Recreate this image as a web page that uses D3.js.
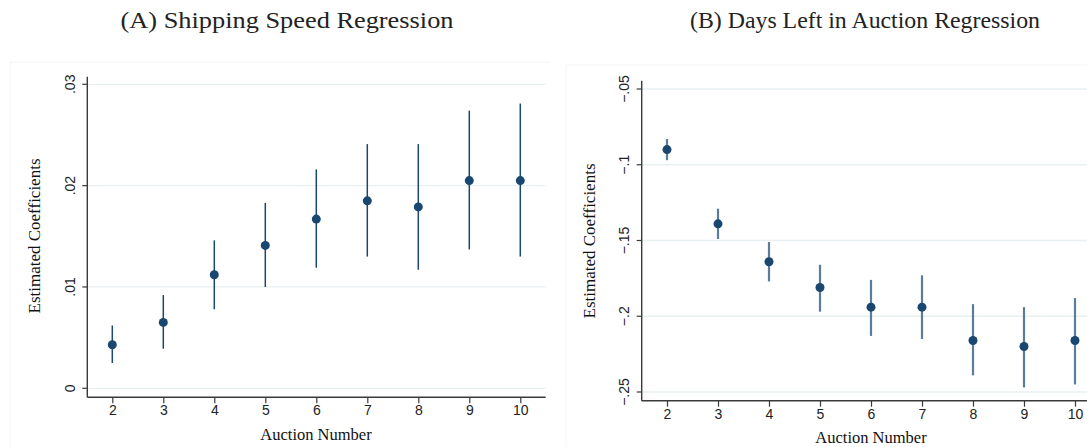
<!DOCTYPE html>
<html>
<head>
<meta charset="utf-8">
<script src="https://cdn.jsdelivr.net/npm/d3@7"></script>
<style>
  html, body { margin: 0; padding: 0; background: #fff; }
  svg { display: block; }
</style>
</head>
<body>
<svg id="chart" width="1087" height="447"></svg>
<script>
// ---- data ----
const auctions = [2, 3, 4, 5, 6, 7, 8, 9, 10];
const shipCoef = [0.0043, 0.0065, 0.0112, 0.0141, 0.0167, 0.0185, 0.0179, 0.0205, 0.0205];
const shipLo   = [0.0025, 0.0039, 0.0078, 0.0100, 0.0119, 0.0130, 0.0117, 0.0137, 0.0130];
const shipHi   = [0.0062, 0.0092, 0.0146, 0.0183, 0.0216, 0.0241, 0.0241, 0.0274, 0.0281];
const daysCoef = [-0.090, -0.139, -0.164, -0.181, -0.194, -0.194, -0.216, -0.220, -0.216];
const daysLo   = [-0.097, -0.149, -0.177, -0.197, -0.213, -0.215, -0.239, -0.247, -0.245];
const daysHi   = [-0.083, -0.129, -0.151, -0.166, -0.176, -0.173, -0.192, -0.194, -0.188];
const shipTicks = [0, 0.01, 0.02, 0.03];
const shipTickLabels = ["0", ".01", ".02", ".03"];
const daysTicks = [-0.25, -0.2, -0.15, -0.1, -0.05];
const daysTickLabels = ["\u2212.25", "\u2212.2", "\u2212.15", "\u2212.1", "\u2212.05"];
const titles = ["(A) Shipping Speed Regression", "(B) Days Left in Auction Regression"];
const xTitle = "Auction Number";
const yTitle = "Estimated Coefficients";

const svg = d3.select("#chart");
const navy = "#1a476f";
const gridCol = "#e8f0f2";
const axisCol = "#3a3a3a";
const serif = "'Liberation Serif', 'Times New Roman', serif";
const sans = "'Liberation Sans', Arial, sans-serif";

const panels = [
  { title: titles[0], titleX: 287, titleW: 333, border: { x: 10, y: 62 },
    axisX: 87.3, axisTop: 76.7, axisY: 397.3, right: 545.7,
    yDomain: [0, 0.03], yRange: [388.3, 84.3], x2: 112.3, x10: 520.3,
    ticks: shipTicks, tickLabels: shipTickLabels,
    coef: shipCoef, lo: shipLo, hi: shipHi, barCol: navy, barW: 1.5,
    ytx: 75, ytitleX: 40, ytitleY: 236, xtitleX: 316, xtitleY: 440, xlabY: 415 },
  { title: titles[1], titleX: 865, titleW: 350, border: { x: 566, y: 65 },
    axisX: 641.7, axisTop: 80.7, axisY: 400.7, right: 1100,
    yDomain: [-0.25, -0.05], yRange: [392, 89], x2: 667, x10: 1075,
    ticks: daysTicks, tickLabels: daysTickLabels,
    coef: daysCoef, lo: daysLo, hi: daysHi, barCol: "#5b7d9b", barW: 2.2,
    ytx: 629, ytitleX: 595, ytitleY: 241, xtitleX: 871, xtitleY: 443, xlabY: 419 }
];

panels.forEach(p => {
  const g = svg.append("g");

  // faint panel border
  g.append("path")
    .attr("d", `M${p.border.x},447 V${p.border.y} H${p.border.x + 540}`)
    .attr("fill", "none").attr("stroke", "#f4f4f4").attr("stroke-width", 1);

  // title
  g.append("text")
    .attr("x", p.titleX).attr("y", 28)
    .attr("text-anchor", "middle")
    .attr("font-family", serif).attr("font-size", 23)
    .attr("fill", "#222")
    .attr("textLength", p.titleW).attr("lengthAdjust", "spacingAndGlyphs")
    .text(p.title);

  const y = d3.scaleLinear().domain(p.yDomain).range(p.yRange);
  const x = d3.scaleLinear().domain([2, 10]).range([p.x2, p.x10]);

  // gridlines
  g.append("g").selectAll("line").data(p.ticks).join("line")
    .attr("x1", p.axisX).attr("x2", p.right)
    .attr("y1", d => y(d)).attr("y2", d => y(d))
    .attr("stroke", gridCol).attr("stroke-width", 1.3);

  // y axis
  const yAxis = d3.axisLeft(y).tickValues(p.ticks)
    .tickFormat((d, i) => p.tickLabels[i]).tickSize(5).tickSizeOuter(0);
  const ya = g.append("g").attr("transform", `translate(${p.axisX},0)`).call(yAxis);
  ya.select(".domain").remove();
  ya.selectAll(".tick").attr("transform", null);
  ya.selectAll(".tick line")
    .attr("y1", d => y(d)).attr("y2", d => y(d))
    .attr("stroke", axisCol).attr("stroke-width", 1.2);
  ya.selectAll(".tick text")
    .attr("x", null).attr("dy", null).attr("y", 0)
    .attr("transform", d => `translate(${p.ytx - p.axisX},${y(d)}) rotate(-90)`)
    .attr("text-anchor", "middle")
    .attr("font-family", sans).attr("font-size", 14).attr("fill", "#222");
  g.append("line")
    .attr("x1", p.axisX).attr("x2", p.axisX)
    .attr("y1", p.axisTop).attr("y2", p.axisY)
    .attr("stroke", axisCol).attr("stroke-width", 1.4);

  // x axis
  const xAxis = d3.axisBottom(x).tickValues(auctions)
    .tickFormat(d3.format("d")).tickSize(6).tickSizeOuter(0);
  const xa = g.append("g").attr("transform", `translate(0,${p.axisY})`).call(xAxis);
  xa.select(".domain").remove();
  xa.selectAll(".tick line").attr("stroke", axisCol).attr("stroke-width", 1.2);
  xa.selectAll(".tick text")
    .attr("y", p.xlabY - p.axisY).attr("dy", null)
    .attr("font-family", sans).attr("font-size", 14).attr("fill", "#222");
  g.append("line")
    .attr("x1", p.axisX).attr("x2", p.right)
    .attr("y1", p.axisY).attr("y2", p.axisY)
    .attr("stroke", axisCol).attr("stroke-width", 1.4);

  // axis titles
  g.append("text")
    .attr("x", p.xtitleX).attr("y", p.xtitleY)
    .attr("text-anchor", "middle")
    .attr("font-family", serif).attr("font-size", 16.5).attr("fill", "#111")
    .text(xTitle);
  g.append("text")
    .attr("transform", `translate(${p.ytitleX},${p.ytitleY}) rotate(-90)`)
    .attr("text-anchor", "middle")
    .attr("font-family", serif).attr("font-size", 17).attr("fill", "#111")
    .text(yTitle);

  // error bars
  g.append("g").selectAll("line").data(auctions).join("line")
    .attr("x1", d => x(d)).attr("x2", d => x(d))
    .attr("y1", (d, i) => y(p.lo[i])).attr("y2", (d, i) => y(p.hi[i]))
    .attr("stroke", p.barCol).attr("stroke-width", p.barW);

  // points
  g.append("g").selectAll("circle").data(auctions).join("circle")
    .attr("cx", d => x(d)).attr("cy", (d, i) => y(p.coef[i]))
    .attr("r", 4.5).attr("fill", navy);
});
</script>
</body>
</html>
